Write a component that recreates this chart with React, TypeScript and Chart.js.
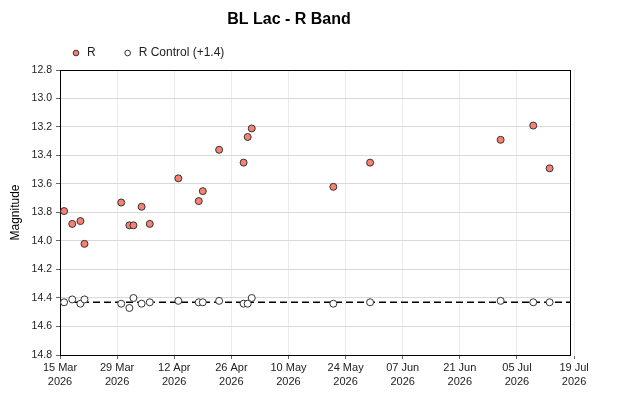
import React, { useEffect, useRef } from 'react';
import { Chart, registerables } from 'chart.js';

Chart.register(...registerables);

// ---- data ----
const START_DATE = '2026-03-15';
const OBS_DATES = [
  '2026-03-16', '2026-03-18', '2026-03-20', '2026-03-21', '2026-03-30',
  '2026-04-01', '2026-04-02', '2026-04-04', '2026-04-06', '2026-04-13',
  '2026-04-18', '2026-04-19', '2026-04-23', '2026-04-29', '2026-04-30',
  '2026-05-01', '2026-05-21', '2026-05-30', '2026-07-01', '2026-07-09',
  '2026-07-13',
];
const R_MAG = [
  13.79, 13.88, 13.86, 14.02, 13.73,
  13.89, 13.89, 13.76, 13.88, 13.56,
  13.72, 13.65, 13.36, 13.45, 13.27,
  13.21, 13.62, 13.45, 13.29, 13.19,
  13.49,
];
const CONTROL_MAG = [
  14.43, 14.41, 14.44, 14.41, 14.44,
  14.47, 14.40, 14.44, 14.43, 14.42,
  14.43, 14.43, 14.42, 14.44, 14.44,
  14.40, 14.44, 14.43, 14.42, 14.43,
  14.43,
];
const CONTROL_MEAN = 14.43;
const X_TICK_DAYS = [0, 14, 28, 42, 56, 70, 84, 98, 112, 126];
const X_MAX_DAY = 125;
const Y_MIN = 12.8;
const Y_MAX = 14.8;
const Y_STEP = 0.2;
const MONTHS = ['Jan', 'Feb', 'Mar', 'Apr', 'May', 'Jun', 'Jul', 'Aug', 'Sep', 'Oct', 'Nov', 'Dec'];
const TITLE = 'BL Lac - R Band';
const LABEL_R = 'R';
const LABEL_CONTROL = 'R Control (+1.4)';
const Y_TITLE = 'Magnitude';

// ---- helpers ----
const DAY_MS = 86400000;
const startMs = Date.parse(START_DATE + 'T00:00:00Z');
const toDay = (s: string) => (Date.parse(s + 'T00:00:00Z') - startMs) / DAY_MS;
const fmtTick = (d: number) => {
  const dt = new Date(startMs + d * DAY_MS);
  return [
    String(dt.getUTCDate()).padStart(2, '0') + ' ' + MONTHS[dt.getUTCMonth()],
    String(dt.getUTCFullYear()),
  ];
};

const LEGEND_DX = 36;
const LEGEND_DY = -9.2;

const legendShift = {
  id: 'legendShift',
  afterLayout(chart: any) {
    const lg = chart.legend;
    if (!lg) return;
    lg.left += LEGEND_DX;
    lg.right += LEGEND_DX;
    lg.top += LEGEND_DY;
    lg.bottom += LEGEND_DY;
  },
};

const frame = {
  id: 'frame',
  beforeDatasetsDraw(chart: any) {
    const { ctx, chartArea } = chart;
    const { left, top, right } = chartArea;
    ctx.save();
    ctx.strokeStyle = '#000';
    ctx.lineWidth = 1;
    ctx.beginPath();
    ctx.moveTo(Math.floor(left), Math.floor(top) + 0.5);
    ctx.lineTo(Math.floor(right) + 1, Math.floor(top) + 0.5);
    ctx.moveTo(Math.floor(right) + 0.5, Math.floor(top));
    ctx.lineTo(Math.floor(right) + 0.5, Math.floor(chartArea.bottom) + 1);
    ctx.stroke();
    ctx.restore();
  },
};

export default function App() {
  const ref = useRef<HTMLCanvasElement | null>(null);

  useEffect(() => {
    if (!ref.current) return;
    Chart.defaults.font.family = "'Liberation Sans', Arial, sans-serif";
    Chart.defaults.color = '#222';

    const days = OBS_DATES.map(toDay);
    const rData = days.map((d, i) => ({ x: d, y: R_MAG[i] }));
    const cData = days.map((d, i) => ({ x: d, y: CONTROL_MAG[i] }));
    const meanData = [
      { x: 0, y: CONTROL_MEAN },
      { x: X_MAX_DAY, y: CONTROL_MEAN },
    ];

    const chart = new Chart(ref.current, {
      type: 'scatter',
      data: {
        datasets: [
          {
            label: LABEL_R,
            data: rData,
            backgroundColor: '#FA8072',
            borderColor: '#333',
            borderWidth: 1,
            pointRadius: 3.5,
            pointStyle: 'circle',
            order: 0,
          },
          {
            label: LABEL_CONTROL,
            data: cData,
            backgroundColor: '#fff',
            borderColor: '#333',
            borderWidth: 1,
            pointRadius: 3.5,
            pointStyle: 'circle',
            order: 1,
          },
          {
            type: 'line',
            label: 'mean',
            data: meanData,
            borderColor: '#000',
            borderWidth: 1.5,
            borderDash: [7, 4],
            pointRadius: 0,
            showLine: true,
            fill: false,
            order: 2,
          } as any,
        ],
      },
      options: {
        animation: false,
        responsive: true,
        maintainAspectRatio: false,
        layout: { padding: { left: 0, right: 52, top: 0, bottom: 8 } },
        plugins: {
          title: {
            display: true,
            text: TITLE,
            color: '#000',
            font: { size: 16, weight: 'bold' },
            padding: { top: 2, bottom: 0 },
          },
          legend: {
            display: true,
            position: 'top',
            align: 'start',
            maxHeight: 40.8,
            labels: {
              usePointStyle: true,
              boxWidth: 10,
              boxHeight: 4,
              padding: 27,
              color: '#222',
              font: { size: 12 },
              filter: (item: any) => item.text !== 'mean',
            },
          } as any,
          tooltip: { enabled: false },
        },
        scales: {
          x: {
            type: 'linear',
            min: 0,
            max: X_MAX_DAY,
            afterBuildTicks: (scale: any) => {
              scale.ticks = X_TICK_DAYS.map((v) => ({ value: v }));
            },
            afterFit: (scale: any) => {
              scale.height = 34;
            },
            ticks: {
              autoSkip: false,
              maxRotation: 0,
              padding: 2,
              color: '#222',
              font: { size: 11, lineHeight: 1.27 },
              callback: (v: any) => fmtTick(Number(v)),
            },
            grid: { color: '#ebebeb', tickColor: '#666', tickLength: 4 },
            border: { color: '#000', width: 1 },
          },
          y: {
            type: 'linear',
            reverse: true,
            min: Y_MIN,
            max: Y_MAX,
            afterFit: (scale: any) => {
              scale.width = 52;
            },
            ticks: {
              stepSize: Y_STEP,
              padding: 4,
              color: '#222',
              font: { size: 10.5 },
              callback: (v: any) => Number(v).toFixed(1),
            },
            title: {
              display: true,
              text: Y_TITLE,
              color: '#000',
              font: { size: 12 },
              padding: { top: 0, bottom: 0 },
            },
            grid: { color: '#d9d9d9', tickColor: '#666', tickLength: 4 },
            border: { color: '#000', width: 1 },
          },
        },
      },
      plugins: [legendShift, frame],
    });

    return () => chart.destroy();
  }, []);

  return (
    <div style={{ position: 'relative', width: '614px', height: '389px' }}>
      <canvas ref={ref} />
    </div>
  );
}
